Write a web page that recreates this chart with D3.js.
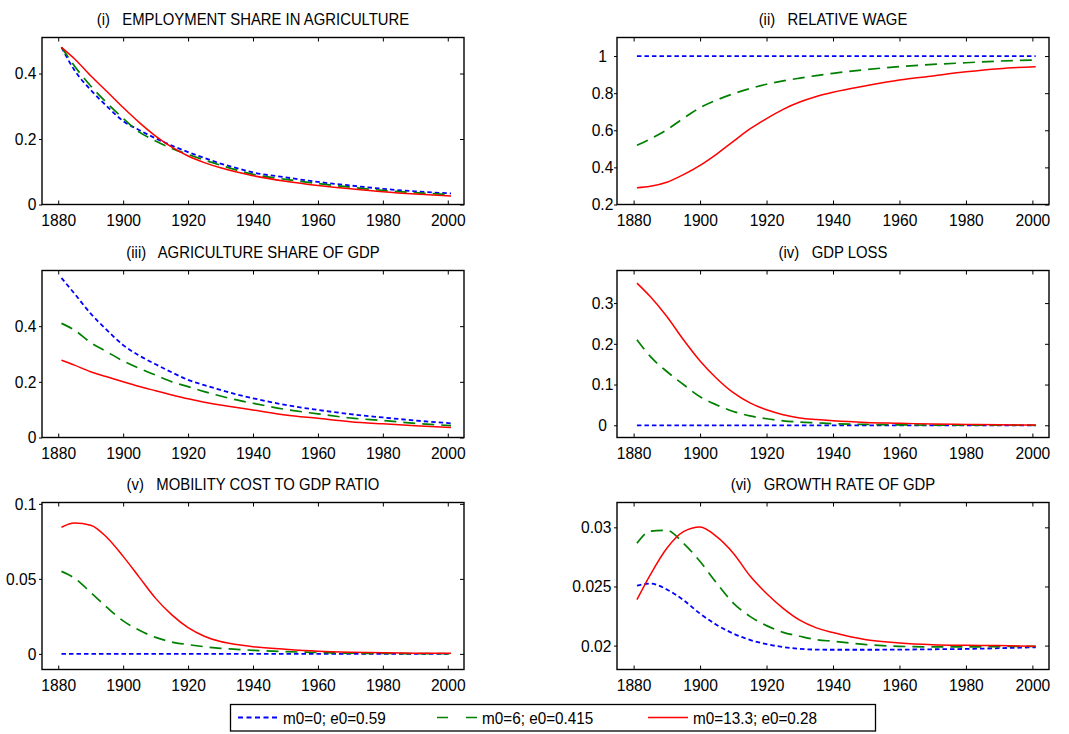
<!DOCTYPE html>
<html>
<head>
<meta charset="utf-8">
<script src="https://cdn.jsdelivr.net/npm/d3@7"></script>
<style>
  body { margin: 0; background: #fff; }
  svg text { font-family: "Liberation Sans", Arial, sans-serif; fill: #000; transform-box: fill-box; white-space: pre; }
  .xaxis text { font-size: 17px; transform-origin: center; transform: scaleX(0.92); }
  .yaxis text { font-size: 17px; transform: scaleX(0.92); }
  .yaxis.end text { transform-origin: right center; }
  .yaxis.middle text { transform-origin: center; }
  .title { font-size: 16px; transform-origin: center; transform: scaleX(0.93); }
  .legend text { font-size: 17px; transform-origin: left center; transform: scaleX(0.9); }
</style>
</head>
<body>
<svg id="chart" width="1069" height="734"></svg>
<script>
// Simulation years shared by every panel
const years = [1881, 1885, 1890, 1895, 1900, 1905, 1910, 1915, 1920, 1925, 1930, 1935, 1940, 1950, 1960, 1970, 1980, 1990, 2001];

const seriesNames = ["m0=0; e0=0.59", "m0=6; e0=0.415", "m0=13.3; e0=0.28"];

const panelTitles = [
  "(i)   EMPLOYMENT SHARE IN AGRICULTURE",
  "(ii)   RELATIVE WAGE",
  "(iii)   AGRICULTURE SHARE OF GDP",
  "(iv)   GDP LOSS",
  "(v)   MOBILITY COST TO GDP RATIO",
  "(vi)   GROWTH RATE OF GDP"
];

// (i) employment share in agriculture
const empBlue  = [0.48, 0.41, 0.35, 0.30, 0.255, 0.227, 0.202, 0.18, 0.16, 0.142, 0.125, 0.111, 0.098, 0.083, 0.069, 0.058, 0.048, 0.040, 0.034];
const empGreen = [0.48, 0.423, 0.362, 0.31, 0.263, 0.221, 0.194, 0.171, 0.153, 0.136, 0.12, 0.105, 0.092, 0.077, 0.064, 0.053, 0.043, 0.036, 0.030];
const empRed   = [0.48, 0.445, 0.393, 0.345, 0.296, 0.25, 0.209, 0.175, 0.148, 0.128, 0.112, 0.099, 0.088, 0.071, 0.058, 0.048, 0.039, 0.032, 0.026];

// (ii) relative wage
const wageBlue  = [1, 1, 1, 1, 1, 1, 1, 1, 1, 1, 1, 1, 1, 1, 1, 1, 1, 1, 1];
const wageGreen = [0.519, 0.553, 0.603, 0.665, 0.722, 0.763, 0.797, 0.825, 0.848, 0.866, 0.881, 0.895, 0.907, 0.927, 0.943, 0.955, 0.964, 0.973, 0.979];
const wageRed   = [0.29, 0.298, 0.32, 0.361, 0.411, 0.472, 0.54, 0.607, 0.663, 0.713, 0.752, 0.782, 0.805, 0.84, 0.871, 0.893, 0.915, 0.932, 0.943];

// (iii) agriculture share of GDP
const gdpShareBlue  = [0.573, 0.517, 0.445, 0.386, 0.332, 0.294, 0.263, 0.234, 0.207, 0.188, 0.171, 0.155, 0.141, 0.117, 0.099, 0.084, 0.072, 0.061, 0.051];
const gdpShareGreen = [0.41, 0.386, 0.341, 0.308, 0.275, 0.248, 0.224, 0.2, 0.183, 0.165, 0.149, 0.135, 0.123, 0.101, 0.085, 0.07, 0.061, 0.051, 0.043];
const gdpShareRed   = [0.278, 0.26, 0.236, 0.218, 0.2, 0.183, 0.168, 0.153, 0.139, 0.127, 0.117, 0.108, 0.099, 0.081, 0.069, 0.057, 0.049, 0.042, 0.036];

// (iv) GDP loss
const lossBlue  = [0, 0, 0, 0, 0, 0, 0, 0, 0, 0, 0, 0, 0, 0, 0, 0, 0, 0, 0];
const lossGreen = [0.21, 0.169, 0.132, 0.1, 0.07, 0.05, 0.034, 0.023, 0.016, 0.011, 0.008, 0.006, 0.004, 0.002, 0.001, 0.0005, 0.0002, 0.0001, 0];
const lossRed   = [0.349, 0.316, 0.267, 0.21, 0.158, 0.115, 0.08, 0.055, 0.038, 0.026, 0.018, 0.014, 0.011, 0.007, 0.005, 0.003, 0.002, 0.001, 0.0005];

// (v) mobility cost to GDP ratio
const costBlue  = [0, 0, 0, 0, 0, 0, 0, 0, 0, 0, 0, 0, 0, 0, 0, 0, 0, 0, 0];
const costGreen = [0.055, 0.0505, 0.041, 0.031, 0.022, 0.0157, 0.011, 0.0079, 0.0062, 0.0048, 0.0037, 0.003, 0.0024, 0.0015, 0.0009, 0.0005, 0.0003, 0.0002, 0.0001];
const costRed   = [0.0844, 0.0872, 0.0858, 0.0776, 0.065, 0.051, 0.037, 0.026, 0.0175, 0.0118, 0.0082, 0.0062, 0.0048, 0.0031, 0.0018, 0.0011, 0.0007, 0.0005, 0.0004];

// (vi) growth rate of GDP
const growthBlue  = [0.02508, 0.02525, 0.02475, 0.02385, 0.0227, 0.02175, 0.02102, 0.02048, 0.02012, 0.01988, 0.01973, 0.01966, 0.01965, 0.01965, 0.01966, 0.01969, 0.01972, 0.01978, 0.01986];
const growthGreen = [0.02865, 0.02968, 0.02975, 0.02865, 0.02711, 0.02528, 0.0236, 0.02247, 0.02169, 0.02112, 0.02079, 0.0205, 0.02037, 0.02008, 0.01994, 0.01989, 0.01989, 0.01992, 0.01994];
const growthRed   = [0.02388, 0.02598, 0.02823, 0.02963, 0.03003, 0.02921, 0.02781, 0.0259, 0.0244, 0.02315, 0.02215, 0.0215, 0.0211, 0.0205, 0.02022, 0.02008, 0.02003, 0.02, 0.01994];

// Axis ticks
const xTicks = [1880, 1900, 1920, 1940, 1960, 1980, 2000];
const yTicksEmp = [0, 0.2, 0.4];
const yTicksWage = [0.2, 0.4, 0.6, 0.8, 1];
const yTicksShare = [0, 0.2, 0.4];
const yTicksLoss = [0, 0.1, 0.2, 0.3];
const yTicksCost = [0, 0.05, 0.1];
const yTicksGrowth = [0.02, 0.025, 0.03];
const yTickLabels = {
  emp: ["0", "0.2", "0.4"],
  wage: ["0.2", "0.4", "0.6", "0.8", "1"],
  share: ["0", "0.2", "0.4"],
  loss: ["0", "0.1", "0.2", "0.3"],
  cost: ["0", "0.05", "0.1"],
  growth: ["0.02", "0.025", "0.03"]
};

// Line styles for the three calibrations
const lineStyles = [
  { color: "#0000ff", dash: "4.5,3", width: 1.8 },
  { color: "#008000", dash: "12,7", width: 1.7 },
  { color: "#ff0000", dash: null, width: 1.5 }
];

const colLeft = [42, 617], colWidth = [422, 432];
const rowTop = [37.5, 270.5, 502.5], plotH = 167;

const panels = [
  { title: panelTitles[0], series: [empBlue, empGreen, empRed], yDomain: [0, 0.51], yTicks: yTicksEmp, yLabels: yTickLabels.emp, col: 0, row: 0, anchor: "end" },
  { title: panelTitles[1], series: [wageBlue, wageGreen, wageRed], yDomain: [0.2, 1.1], yTicks: yTicksWage, yLabels: yTickLabels.wage, col: 1, row: 0, anchor: "middle" },
  { title: panelTitles[2], series: [gdpShareBlue, gdpShareGreen, gdpShareRed], yDomain: [0, 0.6], yTicks: yTicksShare, yLabels: yTickLabels.share, col: 0, row: 1, anchor: "end" },
  { title: panelTitles[3], series: [lossBlue, lossGreen, lossRed], yDomain: [-0.03, 0.38], yTicks: yTicksLoss, yLabels: yTickLabels.loss, col: 1, row: 1, anchor: "middle" },
  { title: panelTitles[4], series: [costBlue, costGreen, costRed], yDomain: [-0.0104, 0.1009], yTicks: yTicksCost, yLabels: yTickLabels.cost, col: 0, row: 2, anchor: "end" },
  { title: panelTitles[5], series: [growthBlue, growthGreen, growthRed], yDomain: [0.01798, 0.0321], yTicks: yTicksGrowth, yLabels: yTickLabels.growth, col: 1, row: 2, anchor: "end" }
];

const svg = d3.select("#chart");

panels.forEach(p => {
  const left = colLeft[p.col], top = rowTop[p.row];
  const w = colWidth[p.col], h = plotH;
  const x = d3.scaleLinear().domain([1875, 2005]).range([0, w]);
  const y = d3.scaleLinear().domain(p.yDomain).range([h, 0]);
  const g = svg.append("g").attr("transform", `translate(${left},${top})`);

  // title
  g.append("text").attr("class", "title")
    .attr("x", w / 2).attr("y", -13)
    .attr("text-anchor", "middle")
    .text(p.title);

  // series lines
  const line = d3.line().x((d, i) => x(years[i])).y(d => y(d)).curve(d3.curveMonotoneX);
  p.series.forEach((vals, k) => {
    const s = lineStyles[k];
    g.append("path").datum(vals)
      .attr("d", line)
      .attr("fill", "none")
      .attr("stroke", s.color)
      .attr("stroke-width", s.width)
      .attr("stroke-dasharray", s.dash);
  });

  // bottom axis with inward ticks
  const xb = g.append("g").attr("class", "xaxis").attr("transform", `translate(0,${h})`)
    .call(d3.axisBottom(x).tickValues(xTicks).tickFormat(d3.format("d")).tickSizeInner(-4).tickSizeOuter(0).tickPadding(9));
  // top axis ticks
  const xt = g.append("g").call(d3.axisTop(x).tickValues(xTicks).tickFormat("").tickSizeInner(-4).tickSizeOuter(0));
  // left axis: short outward ticks with labels
  const yl = g.append("g").attr("class", "yaxis " + p.anchor)
    .call(d3.axisLeft(y).tickValues(p.yTicks).tickFormat((d, i) => p.yLabels[i]).tickSizeInner(3).tickSizeOuter(0).tickPadding(2.5));
  if (p.anchor === "middle") {
    yl.selectAll("text").attr("text-anchor", "middle").attr("x", -14.5);
  }
  // right axis ticks
  const yr = g.append("g").attr("transform", `translate(${w},0)`)
    .call(d3.axisRight(y).tickValues(p.yTicks).tickFormat("").tickSizeInner(-4).tickSizeOuter(0));

  [xb, xt, yl, yr].forEach(a => {
    a.select(".domain").remove();
    a.selectAll("line").attr("stroke", "#000").attr("stroke-width", 1);
    a.attr("font-family", null).attr("font-size", null);
  });

  // frame
  g.append("rect").attr("x", 0).attr("y", 0).attr("width", w).attr("height", h)
    .attr("fill", "none").attr("stroke", "#000").attr("stroke-width", 1.4);
});

// legend
const legend = svg.append("g").attr("class", "legend");
legend.append("rect").attr("x", 230.5).attr("y", 704.5).attr("width", 645).attr("height", 26.5)
  .attr("fill", "#fff").attr("stroke", "#000").attr("stroke-width", 1.3);
const legendSample = [238, 437, 648];
const legendDash = ["5,3.5", "11,18", null];
seriesNames.forEach((name, k) => {
  const s = lineStyles[k];
  legend.append("line")
    .attr("x1", legendSample[k]).attr("x2", legendSample[k] + 40)
    .attr("y1", 717.5).attr("y2", 717.5)
    .attr("stroke", s.color).attr("stroke-width", s.width)
    .attr("stroke-dasharray", legendDash[k]);
  legend.append("text").attr("x", legendSample[k] + 45).attr("y", 724.5).text(name);
});
</script>
</body>
</html>
